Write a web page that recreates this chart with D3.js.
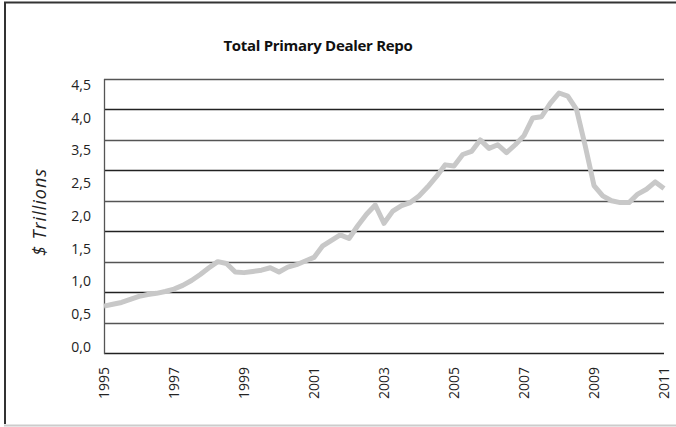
<!DOCTYPE html>
<html>
<head>
<meta charset="utf-8">
<script src="https://cdn.jsdelivr.net/npm/d3@7"></script>
<style>
  body { margin: 0; background: #fff; }
  svg { display: block; font-family: "Open Sans", sans-serif; }
</style>
</head>
<body>
<script>
// Datos trimestrales, 1995 T1 a 2011 T1 (billones de dólares)
var years = [1995, 1997, 1999, 2001, 2003, 2005, 2007, 2009, 2011];
var yLabels = ["0,0", "0,5", "1,0", "1,5", "2,0", "2,5", "3,5", "4,0", "4,5"];
var gridValues = [0, 0.5, 1, 1.5, 2, 2.5, 3, 3.5, 4, 4.5];
var repo = [
  0.77, 0.80, 0.83, 0.88, 0.93, 0.96, 0.98, 1.01,
  1.05, 1.11, 1.19, 1.29, 1.40, 1.50, 1.47, 1.33,
  1.32, 1.34, 1.36, 1.40, 1.33, 1.41, 1.45, 1.51,
  1.57, 1.76, 1.85, 1.94, 1.88, 2.09, 2.28, 2.43,
  2.13, 2.33, 2.42, 2.47, 2.58, 2.73, 2.90, 3.09,
  3.07, 3.26, 3.31, 3.50, 3.36, 3.42, 3.29, 3.42,
  3.57, 3.86, 3.88, 4.10, 4.27, 4.22, 4.00, 3.40,
  2.75, 2.58, 2.50, 2.47, 2.47, 2.61, 2.69, 2.81,
  2.70
];
var title = "Total Primary Dealer Repo";
var yTitle = "$ Trillions";

var W = 676, H = 427;
var plotLeft = 104, plotRight = 664, plotTop = 79, plotBottom = 353;

var svg = d3.select("body").append("svg")
  .attr("width", W)
  .attr("height", H);

// Marco exterior
svg.append("line").attr("x1", 5).attr("x2", 5).attr("y1", 2).attr("y2", 424)
  .attr("stroke", "#333").attr("stroke-width", 2);
svg.append("line").attr("x1", 4).attr("x2", W).attr("y1", 2.5).attr("y2", 2.5)
  .attr("stroke", "#333").attr("stroke-width", 2);
svg.append("line").attr("x1", 4).attr("x2", W).attr("y1", 425.5).attr("y2", 425.5)
  .attr("stroke", "#ccc").attr("stroke-width", 2);

// Escalas
var x = d3.scaleLinear().domain([1995, 2011]).range([plotLeft, plotRight]);
var y = d3.scaleLinear().domain([0, 4.5]).range([plotBottom, plotTop]);
var yLab = d3.scalePoint().domain(yLabels).range([plotBottom - 6, plotTop + 6]);

// Líneas de cuadrícula
svg.append("g")
  .selectAll("line")
  .data(gridValues)
  .enter()
  .append("line")
  .attr("x1", plotLeft)
  .attr("x2", plotRight)
  .attr("y1", function(d) { return Math.round(y(d)) + 0.5; })
  .attr("y2", function(d) { return Math.round(y(d)) + 0.5; })
  .attr("stroke", function(d, i) { return i % 2 ? "#555" : "#222"; })
  .attr("stroke-width", 1.3);

// Eje vertical
svg.append("line")
  .attr("x1", plotLeft + 0.5).attr("x2", plotLeft + 0.5)
  .attr("y1", plotTop).attr("y2", plotBottom + 1)
  .attr("stroke", "#555").attr("stroke-width", 1.3);

// Etiquetas del eje Y (no coinciden con la cuadrícula, como en el original)
svg.append("g")
  .selectAll("text")
  .data(yLabels)
  .enter()
  .append("text")
  .attr("x", 91)
  .attr("y", function(d) { return yLab(d); })
  .attr("dy", "0.35em")
  .attr("text-anchor", "end")
  .style("font-size", "14px")
  .style("fill", "#222")
  .text(function(d) { return d; });

// Etiquetas del eje X, rotadas
var xAxis = svg.append("g")
  .attr("transform", "translate(0," + plotBottom + ")")
  .call(d3.axisBottom(x).tickValues(years).tickFormat(d3.format("d")).tickSize(0));
xAxis.select(".domain").remove();
xAxis.selectAll("text")
  .attr("transform", "rotate(-90)")
  .attr("x", -14)
  .attr("y", 0)
  .attr("dy", "0.35em")
  .attr("text-anchor", "end")
  .style("font-family", "Open Sans, sans-serif")
  .style("font-size", "14px")
  .style("fill", "#222");

// Serie
svg.append("path")
  .datum(repo)
  .attr("fill", "none")
  .attr("stroke", "#c8c8c8")
  .attr("stroke-width", 5)
  .attr("stroke-linejoin", "round")
  .attr("d", d3.line()
    .x(function(d, i) { return x(1995 + i / 4); })
    .y(function(d) { return y(d); }));

// Título
svg.append("text")
  .attr("x", 318)
  .attr("y", 51)
  .attr("text-anchor", "middle")
  .style("font-size", "15px")
  .style("font-weight", "bold")
  .style("letter-spacing", "-0.3px")
  .style("fill", "#111")
  .text(title);

// Título del eje Y
svg.append("text")
  .attr("transform", "translate(46,212) rotate(-90)")
  .attr("text-anchor", "middle")
  .style("font-size", "18px")
  .style("font-style", "italic")
  .style("letter-spacing", "1px")
  .style("fill", "#222")
  .text(yTitle);
</script>
</body>
</html>
